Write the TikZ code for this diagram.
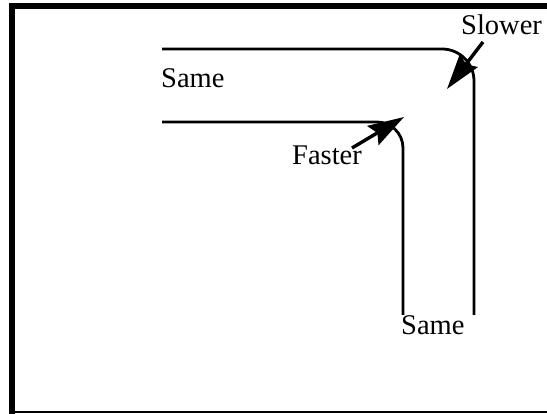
\documentclass[tikz,border=0pt]{standalone}
\usepackage{fontspec}
\setmainfont{Liberation Serif}
\usetikzlibrary{arrows.meta}
\begin{document}
\begin{tikzpicture}[x=1pt,y=-1pt,
  lbl/.style={inner sep=0pt,anchor=base west,font=\fontsize{28.5}{30}\selectfont},
  road/.style={line width=2.8pt},
  pointer/.style={line width=3.4pt,-{Stealth[length=36pt,width=22pt,inset=5pt]}}]
\useasboundingbox (0,0) rectangle (547,414);
% frame
\fill (9,3) rectangle (15,414);
\fill (9,3) rectangle (547,9);
\fill (9,411) rectangle (547,413.5);
% roads
\draw[road] (162,49) -- (442,49) arc[start angle=-90,end angle=0,radius=32] -- (474,315);
\draw[road] (162,122) -- (377,122) arc[start angle=-90,end angle=0,radius=26] -- (403,315);
% labels
\node[lbl] (slower) at (461,35) {Slower};
\node[lbl] (same1) at (161,88) {Same};
\node[lbl] (faster) at (292,165) {Faster};
\node[lbl] (same2) at (401,335) {Same};
% arrows
\coordinate (sT) at (483,42);
\coordinate (sH) at (447,89);
\coordinate (fT) at (352,148);
\coordinate (fH) at (404,117);
\draw[pointer] (sT) -- (sH);
\draw[pointer] (fT) -- (fH);
\end{tikzpicture}
\end{document}
